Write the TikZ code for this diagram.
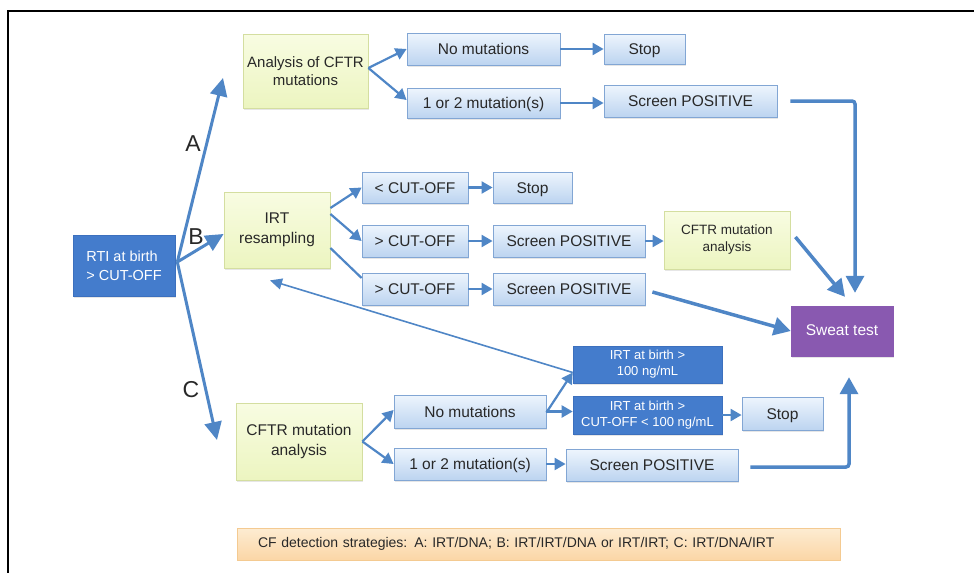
\documentclass[tikz,border=0pt]{standalone}
\usepackage{fontspec}
\setmainfont{Liberation Sans}
\usetikzlibrary{arrows.meta,shadows,calc}
\definecolor{arr}{RGB}{79,134,198}
\definecolor{txt}{RGB}{40,40,40}
\definecolor{ltop}{RGB}{238,245,253}
\definecolor{lbot}{RGB}{188,212,240}
\definecolor{lbord}{RGB}{130,166,212}
\definecolor{ytop}{RGB}{248,252,226}
\definecolor{ybot}{RGB}{236,245,192}
\definecolor{ybord}{RGB}{212,222,160}
\definecolor{bfill}{RGB}{68,124,204}
\definecolor{bbord}{RGB}{60,112,190}
\definecolor{pfill}{RGB}{137,89,176}
\definecolor{gtop}{RGB}{253,236,210}
\definecolor{gbot}{RGB}{251,214,166}
\definecolor{gbord}{RGB}{244,202,145}
\tikzset{
  base/.style={rectangle, inner sep=2pt, align=center,
    drop shadow={shadow xshift=1pt, shadow yshift=-1.5pt, opacity=0.2}},
  lbox/.style={base, draw=lbord, line width=0.8pt, top color=ltop, bottom color=lbot,
    text=txt, font=\fontsize{15.5}{18}\selectfont, text height=13pt, text depth=2pt},
  ybox/.style={base, draw=ybord, line width=0.8pt, top color=ytop, bottom color=ybot, text=txt},
  bbox/.style={base, draw=bbord, line width=0.6pt, fill=bfill, text=white},
  pbox/.style={base, draw=pfill, fill=pfill, text=white, font=\fontsize{15.5}{18}\selectfont,
    text height=13pt, text depth=4pt},
  legbox/.style={rectangle, draw=gbord, line width=0.8pt, top color=gtop, bottom color=gbot,
    text=txt, font=\fontsize{14}{17}\selectfont, align=left, inner xsep=21pt},
  lab/.style={text=txt, font=\fontsize{23}{26}\selectfont, inner sep=0pt},
  fanarr/.style={draw=arr, line width=3pt, -{Triangle[length=18pt,width=17pt]}},
  bigarr/.style={draw=arr, line width=3.5pt, -{Triangle[length=17pt,width=18pt]}},
  sarr/.style={draw=arr, line width=2.2pt, -{Triangle[length=11pt,width=12pt]}},
  sline/.style={draw=arr, line width=2.2pt},
  backarr/.style={draw=arr, line width=1.6pt, -{Triangle[length=12pt,width=11pt]}},
}
\begin{document}
\begin{tikzpicture}[x=1pt,y=-1pt]
\useasboundingbox (0,0) rectangle (974,573);
\draw[line width=1.5pt, black] (974,11) -- (8,11) -- (8,573);

% nodes
\node[bbox, minimum width=102pt, minimum height=61pt, align=left,
  font=\fontsize{14.5}{19}\selectfont] (rti) at (124,265.5) {RTI at birth\\> CUT-OFF};
\node[ybox, minimum width=125pt, minimum height=74pt,
  font=\fontsize{15}{18}\selectfont] (ana) at (305.5,71) {Analysis of CFTR\\mutations};
\node[lbox, minimum width=153pt, minimum height=32pt] (nm1) at (483.5,49) {No mutations};
\node[lbox, minimum width=81pt, minimum height=30pt] (stop1) at (644.5,49) {Stop};
\node[lbox, minimum width=153pt, minimum height=30pt] (mut1) at (483.5,103) {1 or 2 mutation(s)};
\node[lbox, minimum width=173pt, minimum height=32pt] (pos1) at (690.5,101) {Screen POSITIVE};

\node[ybox, minimum width=106pt, minimum height=76pt,
  font=\fontsize{15.5}{20}\selectfont] (irt) at (277,230) {IRT\\resampling};
\node[lbox, minimum width=106pt, minimum height=31pt] (lt) at (415,187.5) {< CUT-OFF};
\node[lbox, minimum width=79pt, minimum height=31pt] (stop2) at (532.5,187.5) {Stop};
\node[lbox, minimum width=106pt, minimum height=32pt] (gt1) at (415,241) {> CUT-OFF};
\node[lbox, minimum width=152pt, minimum height=32pt] (pos2) at (569,241) {Screen POSITIVE};
\node[ybox, minimum width=126pt, minimum height=58pt,
  font=\fontsize{13.5}{17}\selectfont] (cftr2) at (727,240) {CFTR mutation\\analysis};
\node[lbox, minimum width=106pt, minimum height=32pt] (gt2) at (415,289) {> CUT-OFF};
\node[lbox, minimum width=152pt, minimum height=32pt] (pos3) at (569,289) {Screen POSITIVE};

\node[pbox, minimum width=102pt, minimum height=50pt] (sweat) at (842,331) {Sweat test};

\node[bbox, minimum width=149pt, minimum height=37pt,
  font=\fontsize{13}{16}\selectfont] (irt100) at (647.5,364.5) {IRT at birth >\\100 ng/mL};
\node[bbox, minimum width=149pt, minimum height=38pt,
  font=\fontsize{13}{16}\selectfont] (irtco) at (647.5,415) {IRT at birth >\\CUT-OFF < 100 ng/mL};
\node[lbox, minimum width=81pt, minimum height=33pt] (stop3) at (782.5,413.5) {Stop};
\node[ybox, minimum width=126pt, minimum height=77pt,
  font=\fontsize{15.5}{20}\selectfont] (cftr3) at (299,441.5) {CFTR mutation\\analysis};
\node[lbox, minimum width=152pt, minimum height=33pt] (nm3) at (470,411.5) {No mutations};
\node[lbox, minimum width=152pt, minimum height=32pt] (mut3) at (470,464) {1 or 2 mutation(s)};
\node[lbox, minimum width=172pt, minimum height=32pt] (pos4) at (652,465) {Screen POSITIVE};

\node[legbox, text width=561pt, minimum height=32pt] (leg) at (538.5,544)
  {CF detection strategies: A: IRT/DNA; B: IRT/IRT/DNA or IRT/IRT; C: IRT/DNA/IRT};

\node[lab] (la) at (193,144) {A};
\node[lab] (lb) at (196,237) {B};
\node[lab] (lc) at (191,390) {C};

% connectors
\coordinate (fan) at ([xshift=2pt,yshift=3.5pt]rti.east);
\coordinate (tipA) at (223,78);
\coordinate (tipC) at (217,440);
\draw[fanarr] (fan) -- (tipA);
\draw[fanarr] (fan) -- ([yshift=-4pt]irt.west);
\draw[fanarr] (fan) -- (tipC);

\draw[sarr] ([yshift=3pt]ana.east) -- (nm1.west);
\draw[sarr] ([yshift=3pt]ana.east) -- ([yshift=3pt]mut1.west);
\draw[sarr] (nm1) -- (stop1);
\draw[sarr] (mut1.east) -- (mut1.east -| pos1.west);
\draw[bigarr, rounded corners=3pt] ([xshift=13pt]pos1.east) -| ([xshift=13pt,yshift=13pt]sweat.north);

\draw[sarr] ([yshift=22pt]irt.east) -- (lt.west);
\draw[sarr] ([yshift=16pt]irt.east) -- (gt1.west);
\draw[sline] ([yshift=-18pt]irt.east) -- ([yshift=11pt]gt2.west);
\draw[sarr] (lt) -- (stop2);
\draw[sarr] (gt1) -- (pos2);
\draw[sarr] (pos2.east) -- (pos2.east -| cftr2.west);
\draw[sarr] (gt2) -- (pos3);
\draw[bigarr] ([xshift=5pt,yshift=3pt]cftr2.east) -- ([xshift=3pt,yshift=9pt]sweat.north);
\draw[bigarr] ([xshift=7pt,yshift=-3pt]pos3.east) -- (sweat.west);

\draw[backarr] ([yshift=-8pt]irt100.west) -- ([xshift=-7pt,yshift=-12pt]irt.south);
\draw[sarr] ([yshift=-1pt]nm3.east) -- ([yshift=-8pt]irt100.west);
\draw[sarr] (nm3.east) -- (nm3.east -| irtco.west);
\draw[sarr] (irtco.east) -- (irtco.east -| stop3.west);
\draw[sarr] (cftr3.east) -- ([yshift=1.5pt]nm3.west);
\draw[sarr] (cftr3.east) -- (mut3.west);
\draw[sarr] (mut3.east) -- (mut3.east -| pos4.west);
\draw[bigarr, rounded corners=3pt] ([xshift=12pt,yshift=-2pt]pos4.east) -| ([xshift=7pt,yshift=-21pt]sweat.south);
\end{tikzpicture}
\end{document}
